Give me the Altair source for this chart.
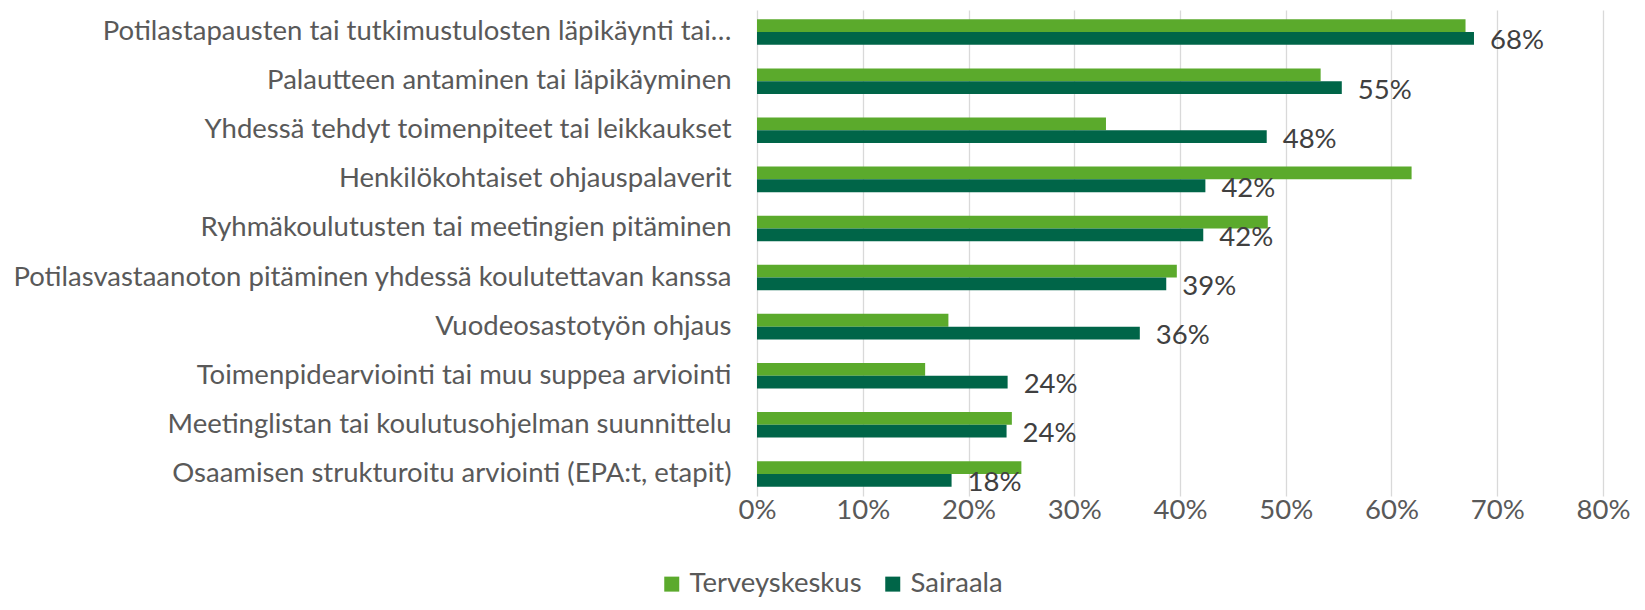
import altair as alt
import pandas as pd

categories = [
    "Potilastapausten tai tutkimustulosten läpikäynti tai…",
    "Palautteen antaminen tai läpikäyminen",
    "Yhdessä tehdyt toimenpiteet tai leikkaukset",
    "Henkilökohtaiset ohjauspalaverit",
    "Ryhmäkoulutusten tai meetingien pitäminen",
    "Potilasvastaanoton pitäminen yhdessä koulutettavan kanssa",
    "Vuodeosastotyön ohjaus",
    "Toimenpidearviointi tai muu suppea arviointi",
    "Meetinglistan tai koulutusohjelman suunnittelu",
    "Osaamisen strukturoitu arviointi (EPA:t, etapit)",
]
terveyskeskus = [67.0, 53.3, 33.0, 61.9, 48.3, 39.7, 18.1, 15.9, 24.1, 25.0]
sairaala = [67.8, 55.3, 48.2, 42.4, 42.2, 38.7, 36.2, 23.7, 23.6, 18.4]
series = ["Terveyskeskus", "Sairaala"]
colors = ["#5BAA2C", "#006548"]
x_ticks = [0, 0.1, 0.2, 0.3, 0.4, 0.5, 0.6, 0.7, 0.8]

rows = []
for c, t, s in zip(categories, terveyskeskus, sairaala):
    rows.append({"cat": c, "series": series[0], "value": t / 100})
    rows.append({"cat": c, "series": series[1], "value": s / 100})
df = pd.DataFrame(rows)

FONT = "Lato"
FS = 27.5

y = alt.Y(
    "cat:N",
    sort=categories,
    scale=alt.Scale(paddingInner=0.48, paddingOuter=0.19),
    axis=alt.Axis(
        title=None, ticks=False, domain=False, labelFontSize=FS,
        labelColor="#595959", labelPadding=26, labelLimit=900, labelFont=FONT,
    ),
)
x = alt.X(
    "value:Q",
    scale=alt.Scale(domain=[0, 0.8], nice=False),
    axis=alt.Axis(
        title=None, format=".0%", values=x_ticks, grid=True, gridColor="#D9D9D9",
        gridWidth=1.3, domain=False, ticks=False, labelFontSize=FS,
        labelColor="#595959", labelPadding=0, labelFont=FONT, labelFlush=False,
    ),
)
yoff = alt.YOffset("series:N", sort=series, scale=alt.Scale(domain=series))

bars = alt.Chart(df).mark_bar().encode(
    x=x,
    y=y,
    yOffset=yoff,
    color=alt.Color(
        "series:N",
        scale=alt.Scale(domain=series, range=colors),
        legend=alt.Legend(
            title=None, orient="none", direction="horizontal",
            legendX=-99, legendY=560, symbolType="square", symbolSize=225,
            symbolStrokeWidth=0, labelFontSize=FS, labelColor="#595959",
            labelFont=FONT, columnPadding=17, labelOffset=4, labelLimit=400,
        ),
    ),
)

labels = alt.Chart(df).transform_filter(
    alt.datum.series == "Sairaala"
).mark_text(
    align="left", baseline="middle", dx=16, dy=3, fontSize=FS, font=FONT, color="#404040"
).encode(
    x=alt.X("value:Q"),
    y=alt.Y("cat:N", sort=categories),
    yOffset=yoff,
    text=alt.Text("value:Q", format=".0%"),
)

chart = (
    alt.layer(bars, labels)
    .properties(
        width=846,
        height=486,
        autosize=alt.AutoSizeParams(type="none"),
        padding={"left": 749, "top": 2, "right": 32, "bottom": 106},
    )
    .configure_view(stroke=None)
)

chart.save("out.html", embed_options={"renderer": "svg", "actions": False})
